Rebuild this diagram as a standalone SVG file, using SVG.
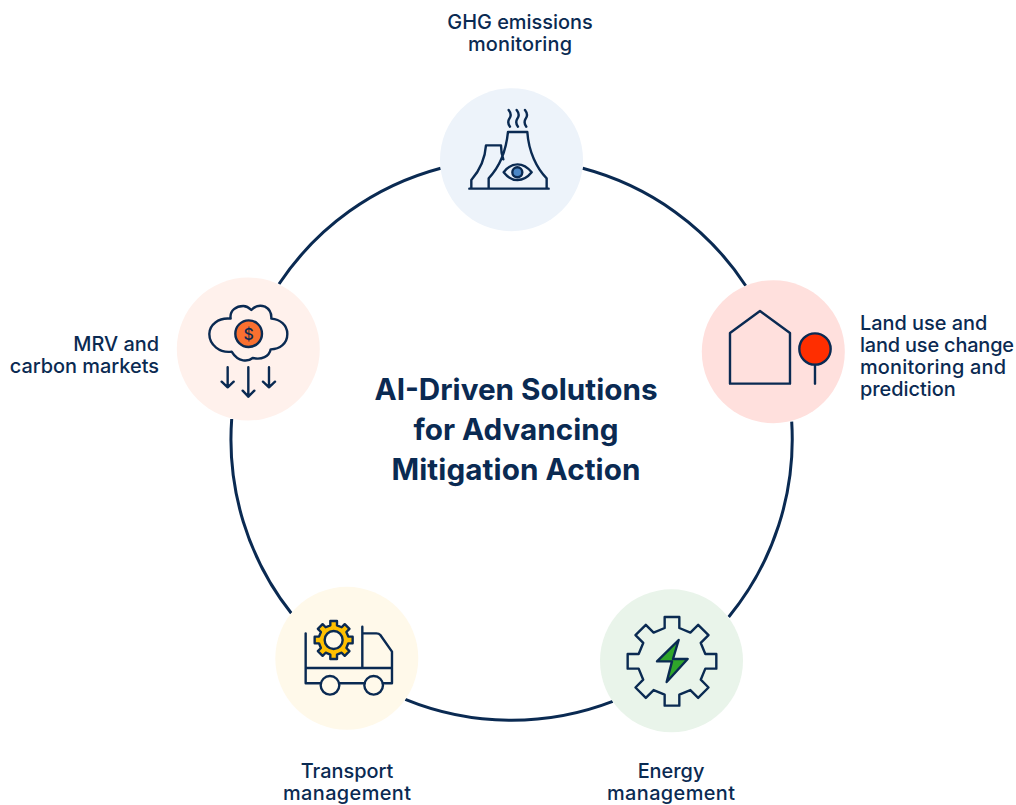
<svg xmlns="http://www.w3.org/2000/svg" width="1016" height="805" viewBox="0 0 1016 805">
<style>
text{font-family:"Inter","Noto Sans","Liberation Sans",sans-serif;fill:#0a2a52}
.lb{font-size:19.9px;font-weight:500}
.ti{font-size:29.7px;font-weight:700}
.m{text-anchor:middle}
.e{text-anchor:end}
.ic{fill:none;stroke:#0a2a52;stroke-width:7.2;stroke-linecap:round;stroke-linejoin:round}
.arc{fill:none;stroke:#0a2a52;stroke-width:3}
</style>
<rect width="1016" height="805" fill="#ffffff"/>
<g id="connectors">
<path class="arc" d="M582.7 168.3A280.5 280.5 0 0 1 745.7 285.7"/>
<path class="arc" d="M791.7 421.7A280.5 280.5 0 0 1 728.7 617"/>
<path class="arc" d="M612.7 701.3A280.5 280.5 0 0 1 405.3 699.3"/>
<path class="arc" d="M291.3 613.3A280.5 280.5 0 0 1 231.7 419"/>
<path class="arc" d="M279 284A280.5 280.5 0 0 1 440.7 168.3"/>
</g>
<g id="title">
<text class="ti m" x="516" y="400">AI-Driven Solutions</text>
<text class="ti m" x="516" y="440">for Advancing</text>
<text class="ti m" x="516" y="480" textLength="249">Mitigation Action</text>
</g>
<g id="node-ghg">
<circle cx="511.5" cy="159.7" r="71.5" fill="#edf3fa"/>
<g class="ic" transform="translate(430 80) scale(.3333)">
<path d="M118 326H356M176 326V295C205 265 228 215 234 156H292C296 215 320 265 350 295V326M124 326V300C150 270 165 240 168 196H213C213 210 215 225 220 238"/>
<path d="M221 277C245 245 280 245 305 277C280 308 245 308 221 277Z"/>
<circle cx="262" cy="277" r="15" fill="#4a86c5"/>
<path d="M236 90C244 100 244 108 238 116C233 124 234 132 240 140M260 90C268 100 268 108 262 116C257 124 258 132 264 140M285 90C293 100 293 108 287 116C282 124 283 132 289 140"/>
</g>
<text class="lb m" x="520" y="29">GHG emissions</text>
<text class="lb m" x="520" y="51" textLength="104">monitoring</text>
</g>
<g id="node-land">
<circle cx="773.3" cy="351.7" r="71.5" fill="#ffe0dd"/>
<g class="ic" transform="translate(695 275) scale(.3333)">
<path d="M105 326V174L195 108L285 174V326Z"/>
<circle cx="360" cy="222" r="47" fill="#ff2e00"/>
<path d="M360 270V326"/>
</g>
<text class="lb" x="860" y="330">Land use and</text>
<text class="lb" x="860" y="352" textLength="154">land use change</text>
<text class="lb" x="860" y="374" textLength="146">monitoring and</text>
<text class="lb" x="860" y="396">prediction</text>
</g>
<g id="node-energy">
<circle cx="671.5" cy="660.8" r="71.5" fill="#e9f4ea"/>
<g class="ic" transform="translate(592 582) scale(.3333)">
<path transform="translate(240 238)" d="M-22-100V-133H22V-100L55.100-86.300L78.500-109.600L109.600-78.500L86.300-55.100L100-22H133V22H100L86.300 55.100L109.600 78.500L78.500 109.600L55.100 86.300L22 100V133H-22V100L-55.100 86.300L-78.500 109.600L-109.600 78.500L-86.300 55.100L-100 22H-133V-22H-100L-86.300-55.100L-109.600-78.500L-78.500-109.600L-55.100-86.300Z"/>
<path d="M260 174L195 238H240L224 300L287 231H243Z" fill="#2fa52a"/>
</g>
<text class="lb m" x="671" y="778">Energy</text>
<text class="lb m" x="671" y="800" textLength="128">management</text>
</g>
<g id="node-transport">
<circle cx="346.800" cy="658.3" r="71.5" fill="#fff9ea"/>
<g class="ic" transform="translate(268 580) scale(.3333)">
<path d="M113 160V310H158M113 264H372M215 310H290M345 310H372V215L337 165Q333 160 325 160H283M283 140V264"/>
<circle cx="186" cy="316" r="28"/>
<circle cx="317" cy="316" r="28"/>
<path transform="translate(197 180)" fill="#ffc000" d="M-10-44V-57H10V-44L24-38.200L33.200-47.400L47.400-33.200L38.200-24L44-10H57V10H44L38.200 24L47.400 33.200L33.200 47.400L24 38.200L10 44V57H-10V44L-24 38.200L-33.200 47.400L-47.400 33.200L-38.200 24L-44 10H-57V-10H-44L-38.200-24L-47.400-33.200L-33.200-47.400L-24-38.200Z"/>
<circle cx="197" cy="180" r="27" fill="#fff9ea"/>
</g>
<text class="lb m" x="347" y="778">Transport</text>
<text class="lb m" x="347" y="800" textLength="128">management</text>
</g>
<g id="node-mrv">
<circle cx="248.300" cy="349" r="71.5" fill="#fff1ec"/>
<g class="ic" transform="translate(170 270) scale(.3333)">
<path d="M182 146C178 120 200 108 220 108C230 108 238 114 244 120C255 108 270 105 285 110C300 118 305 130 304 146C330 148 352 165 352 192C352 220 330 238 302 238C298 260 275 270 248 264C235 275 205 278 185 245C150 250 118 225 118 192C118 165 145 142 182 146Z"/>
<circle cx="236" cy="191" r="40" fill="#f97030"/>
<path d="M173 292V352M155 335L173 352L191 335M235 292V380M218 362L235 380L253 362M297 292V352M279 335L297 352L315 335"/>
</g>
<text x="248.700" y="339.500" class="m" style="font-size:16px;font-weight:500">$</text>
<text class="lb e" x="159" y="351">MRV and</text>
<text class="lb e" x="159" y="373">carbon markets</text>
</g>
</svg>
